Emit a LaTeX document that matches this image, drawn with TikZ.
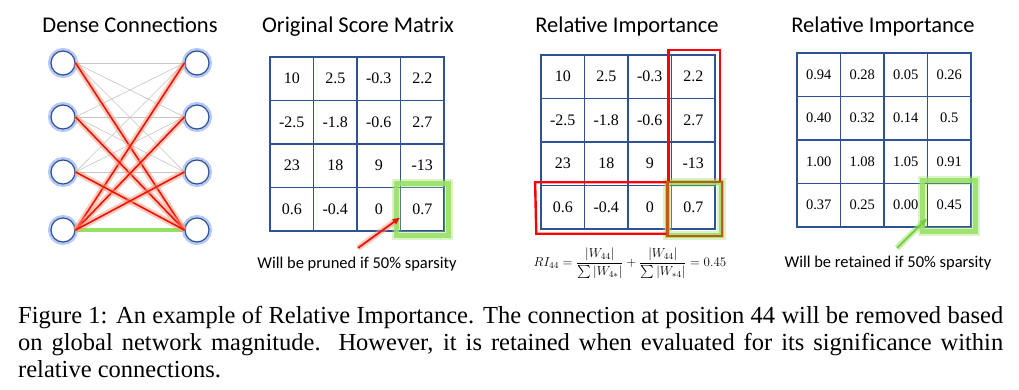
\RequirePackage{fix-cm}
\documentclass[tikz,border=0pt]{standalone}
\usepackage{amsmath,amssymb}
\usepackage{fontspec}
\setmainfont{Liberation Serif}
\setsansfont{Carlito}
\usepackage{xcolor}
\usetikzlibrary{positioning,arrows.meta}

\definecolor{gridblue}{RGB}{47,82,150}
\definecolor{glowblue}{RGB}{125,155,240}
\definecolor{linkred}{RGB}{235,20,10}
\definecolor{glowred}{RGB}{250,150,120}
\definecolor{glowgreen}{RGB}{150,225,100}
\definecolor{arrowgreen}{RGB}{120,205,60}
\definecolor{boxbrown}{RGB}{200,85,25}

\tikzset{
	neuron/.style={circle,draw=gridblue,line width=1.2pt,fill=white,
		minimum size=24pt,inner sep=0pt,
		preaction={draw=glowblue,line width=6pt,opacity=0.55}},
	weak/.style={draw=gray!45,line width=0.6pt},
	strong/.style={draw=linkred,line width=1.6pt,
		preaction={draw=glowred,line width=6pt,opacity=0.5}},
	kept/.style={draw=glowgreen,line width=4pt},
	cell/.style={draw=gridblue,line width=1.4pt,minimum width=43.5pt,
		minimum height=43.5pt,inner sep=0pt,font=\fontsize{16}{16}\selectfont},
	smallcell/.style={cell,font=\fontsize{14.5}{14.5}\selectfont},
	title/.style={font=\sffamily\fontsize{22.5}{26}\selectfont,anchor=base},
	note/.style={font=\sffamily\fontsize{16.5}{19}\selectfont,anchor=base},
	glow/.style={draw=glowgreen,line width=5pt,opacity=0.85,
		preaction={draw=glowgreen,line width=9pt,opacity=0.35}},
	redbox/.style={draw=red,line width=2.4pt},
	pointer/.style={-{Triangle[length=7pt,width=6pt]},line width=1.8pt}
}

\begin{document}
\begin{tikzpicture}[x=1pt,y=-1pt]
	
	\fill[white] (0,0) rectangle (1019,390);
	\useasboundingbox (0,0) rectangle (1019,390);
	
	% titles
	\node[title] (tdense) at (130,33) {Dense Connections};
	\node[title] (torig) at (358,33) {Original Score Matrix};
	\node[title] (trel) at (627,33) {Relative Importance};
	\node[title] (tres) at (883,33) {Relative Importance};
	
	% dense layer
	\foreach \i/\y in {1/63,2/117,3/172,4/230} {
		\node[neuron] (L\i) at (63,\y) {};
		\node[neuron] (R\i) at (197,\y) {};
	}
	\foreach \i in {1,2,3}
		\foreach \j in {1,2,3}
			\draw[weak] (L\i.east) -- (R\j.west);
	\draw[kept] (L4.east) -- (R4.west);
	\foreach \i in {1,2,3} {
		\draw[strong] (L\i.east) -- (R4.west);
		\draw[strong] (L4.east) -- (R\i.west);
	}
	
	% original score matrix
	\foreach \vals [count=\r] in {{10,2.5,-0.3,2.2},{-2.5,-1.8,-0.6,2.7},{23,18,9,-13},{0.6,-0.4,0,0.7}}
		\foreach \v [count=\c] in \vals
			\node[cell] (o\r\c) at (248.25+43.5*\c,35.25+43.5*\r) {\v};
	\draw[glow] ([shift={(-3.5,-3)}]o44.north west) rectangle ([shift={(3.5,4)}]o44.south east);
	
	\node[note] (pruned) at (357,268) {Will be pruned if 50\% sparsity};
	\coordinate (pruneTail) at (358,248);
	\draw[pointer,draw=linkred,fill=linkred,
		preaction={draw=glowred,line width=6pt,opacity=0.5}]
		(pruneTail) -- ([shift={(0,-14)}]o44.south west);
	
	% relative importance matrix
	\foreach \vals [count=\r] in {{10,2.5,-0.3,2.2},{-2.5,-1.8,-0.6,2.7},{23,18,9,-13},{0.6,-0.4,0,0.7}}
		\foreach \v [count=\c] in \vals
			\node[cell] (m\r\c) at (519.25+43.5*\c,33.25+43.5*\r) {\v};
	\draw[glow] ([shift={(-3.5,-2.5)}]m44.north west) rectangle ([shift={(6,6)}]m44.south east);
	\draw[redbox] ([shift={(-2.5,-4)}]m14.north west) -- ([shift={(-2.5,-2.5)}]m44.north west);
	\draw[redbox] ([shift={(4,-4)}]m14.north east) -- ([shift={(4,-2.5)}]m44.north east);
	\draw[redbox] ([shift={(-3.7,-4)}]m14.north west) -- ([shift={(5.2,-4)}]m14.north east);
	\draw[redbox] ([shift={(-3.5,-2.5)}]m44.north west) -- ([shift={(-5.2,-2.5)}]m41.north west)
		-- ([shift={(-4,4)}]m41.south west) -- ([shift={(-3.5,4)}]m44.south west);
	\draw[draw=boxbrown,line width=2.4pt] ([shift={(-3.5,-2.5)}]m44.north west) rectangle ([shift={(6,6)}]m44.south east);
	
	\node[font=\fontsize{13}{16}\selectfont] (ri) at (630,263)
		{$\displaystyle RI_{44}=\frac{|W_{44}|}{\textstyle\sum|W_{4*}|}+\frac{|W_{44}|}{\textstyle\sum|W_{*4}|}=0.45$};
	
	% resulting importance
	\foreach \vals [count=\r] in {{0.94,0.28,0.05,0.26},{0.40,0.32,0.14,0.5},{1.00,1.08,1.05,0.91},{0.37,0.25,0.00,0.45}}
		\foreach \v [count=\c] in \vals
			\node[smallcell] (r\r\c) at (775.25+43.5*\c,31.25+43.5*\r) {\v};
	\draw[glow] ([shift={(-4.5,-2.5)}]r44.north west) rectangle ([shift={(4,4)}]r44.south east);
	
	\node[note] (retained) at (888,267) {Will be retained if 50\% sparsity};
	\coordinate (keepTail) at (897,248);
	\draw[pointer,draw=arrowgreen,fill=arrowgreen,
		preaction={draw=glowgreen,line width=6pt,opacity=0.5}]
		(keepTail) -- ([shift={(0,-9)}]r44.south west);
	
	% caption
	\node[
	anchor=base west,
	text width=985pt,
	align=justify,
	inner sep=0pt,
	font=\fontsize{24.5}{27}\selectfont
	] (caption) at (18,323)
	{Figure 1: An example of Relative Importance. The connection at position 44 will be removed based\linebreak
		on global network magnitude.\ \ However, it is retained when evaluated for its significance within\linebreak
		relative connections.};
	
\end{tikzpicture}
\end{document}
